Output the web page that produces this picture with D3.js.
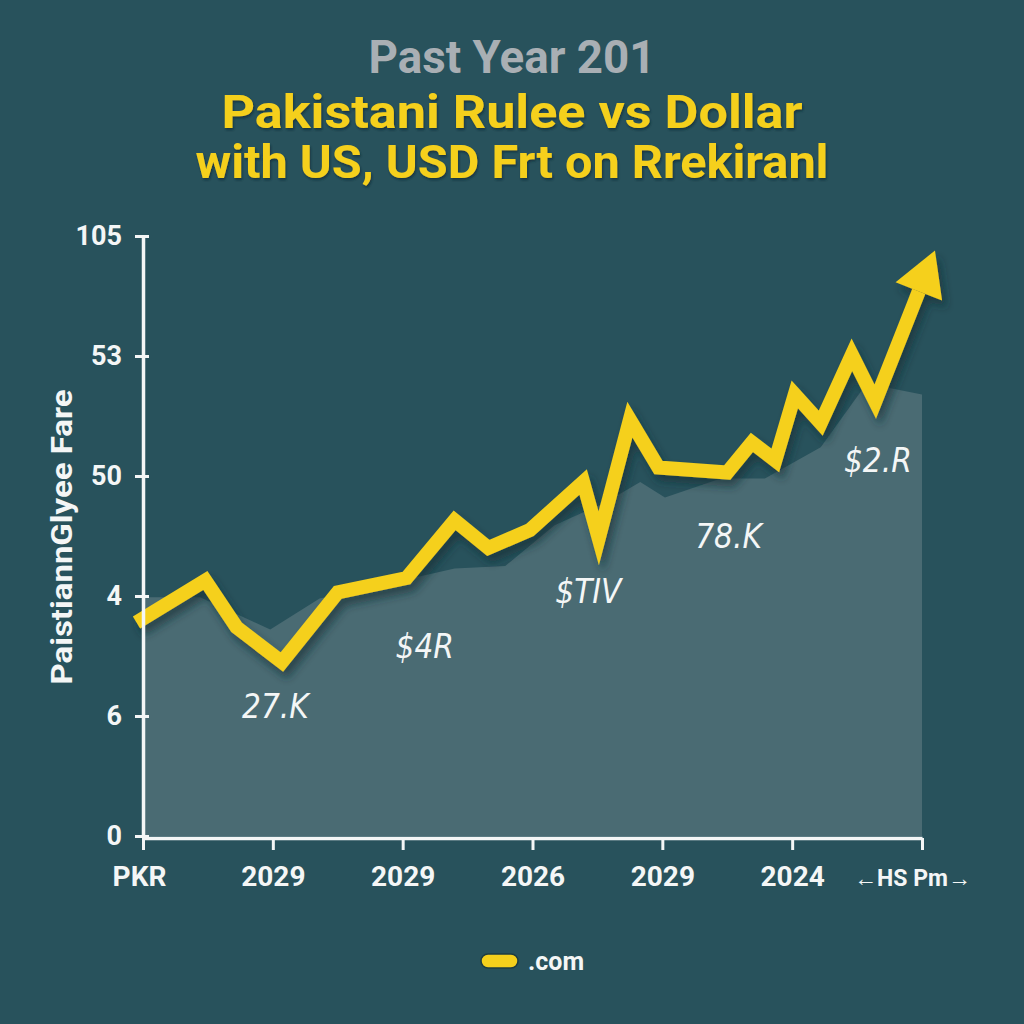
<!DOCTYPE html>
<html>
<head>
<meta charset="utf-8">
<script src="https://cdn.jsdelivr.net/npm/d3@7"></script>
<style>
  body { margin: 0; background: #28525c; }
  svg { display: block; }
</style>
</head>
<body>
<svg id="chart" width="1024" height="1024"></svg>
<script>
// tick labels (as printed on the chart)
var xLabels = ["PKR", "2029", "2029", "2026", "2029", "2024", "\u2190HS Pm\u2192"];
var yLabels = ["0", "6", "4", "50", "53", "105"];

// yellow rate line, in axis units (x: tick index, y: tick index)
var rateX = [-0.05, 0.48, 0.72, 1.07, 1.50, 2.03, 2.40, 2.66, 2.98, 3.39, 3.51, 3.75, 3.97, 4.50, 4.69, 4.87, 5.02, 5.22, 5.46, 5.64, 6.10];
var rateY = [1.78, 2.13, 1.74, 1.45, 2.03, 2.15, 2.63, 2.40, 2.55, 2.95, 2.48, 3.47, 3.07, 3.03, 3.28, 3.13, 3.68, 3.44, 4.01, 3.62, 4.88];

// grey area behind the line
var areaX = [0, 0.44, 0.98, 1.36, 1.67, 2.40, 2.79, 3.17, 3.56, 3.83, 4.02, 4.45, 4.79, 5.22, 5.54, 5.72, 6.0];
var areaY = [1.99, 1.99, 1.72, 1.98, 2.05, 2.23, 2.25, 2.59, 2.78, 2.95, 2.82, 2.98, 2.98, 3.24, 3.72, 3.74, 3.68];

// value notes on the area
var notes = ["27.K", "$4R", "$TIV", "78.K", "$2.R"];
var noteX = [1.02, 2.17, 3.43, 4.51, 5.66];
var noteY = [0.98, 1.48, 1.94, 2.40, 3.03];

var titles = ["Past Year 201", "Pakistani Rulee vs Dollar", "with US, USD Frt on Rrekiranl"];

var svg = d3.select("#chart");
var yellow = "#f5d01c";

svg.append("rect").attr("width", 1024).attr("height", 1024).attr("fill", "#28525c");

var defs = svg.append("defs");
var f = defs.append("filter").attr("id", "shadow")
    .attr("x", "-10%").attr("y", "-10%").attr("width", "130%").attr("height", "130%");
f.append("feDropShadow").attr("dx", 4).attr("dy", 7).attr("stdDeviation", 4)
    .attr("flood-color", "#0d2a30").attr("flood-opacity", 0.6);
var ts = defs.append("filter").attr("id", "tshadow");
ts.append("feDropShadow").attr("dx", 1).attr("dy", 2).attr("stdDeviation", 1)
    .attr("flood-color", "#0d2a30").attr("flood-opacity", 0.7);

// titles
var titleCfg = [
  {y: 73, size: 46, len: 287, fill: "#a9afb4"},
  {y: 128, size: 46, len: 581, fill: yellow},
  {y: 178, size: 46, len: 633, fill: yellow}
];
titles.forEach(function(t, i) {
  svg.append("text")
    .attr("x", 512)
    .attr("y", titleCfg[i].y)
    .attr("text-anchor", "middle")
    .attr("textLength", titleCfg[i].len)
    .attr("lengthAdjust", "spacingAndGlyphs")
    .style("font-family", "Roboto, 'Liberation Sans', sans-serif")
    .style("font-weight", "bold")
    .style("font-size", titleCfg[i].size + "px")
    .style("fill", titleCfg[i].fill)
    .attr("filter", i > 0 ? "url(#tshadow)" : null)
    .text(t);
});

var x = d3.scaleLinear().domain([0, 6]).range([143, 922]);
var y = d3.scaleLinear().domain([0, 5]).range([836, 236]);

// area
var areaPts = areaX.map(function(d, i) { return [d, areaY[i]]; });
svg.append("path")
  .datum(areaPts)
  .attr("fill", "#4a6b73")
  .attr("d", d3.area().x(function(d) { return x(d[0]); }).y0(y(0)).y1(function(d) { return y(d[1]); }));

// notes
notes.forEach(function(n, i) {
  svg.append("text")
    .attr("x", x(noteX[i]))
    .attr("y", y(noteY[i]))
    .attr("text-anchor", "middle")
    .style("font-family", "'DejaVu Sans Condensed', 'Liberation Sans Narrow', sans-serif")
    .style("font-style", "oblique")
    .style("font-size", "33px")
    .style("fill", "#f4f6f6")
    .text(n);
});

// line + arrow head (tip is the last point)
var pts = rateX.map(function(d, i) { return [x(d), y(rateY[i])]; });
var tip = pts[pts.length - 1], prev = pts[pts.length - 2];
var dx = tip[0] - prev[0], dy = tip[1] - prev[1];
var len = Math.sqrt(dx * dx + dy * dy);
var ux = dx / len, uy = dy / len;
var headLen = 44, headHalf = 25;
var base = [tip[0] - ux * headLen, tip[1] - uy * headLen];
var linePts = pts.slice(0, -1).concat([base]);

var lineG = svg.append("g").attr("filter", "url(#shadow)");
lineG.append("path")
  .datum(linePts)
  .attr("fill", "none")
  .attr("stroke", yellow)
  .attr("stroke-width", 14)
  .attr("stroke-linejoin", "miter")
  .attr("stroke-miterlimit", 6)
  .attr("d", d3.line());
lineG.append("path")
  .attr("fill", yellow)
  .attr("d", d3.line()([
    tip,
    [base[0] - uy * headHalf, base[1] + ux * headHalf],
    [base[0] + uy * headHalf, base[1] - ux * headHalf]
  ]) + "Z");

// axes
var yAxis = svg.append("g")
  .attr("transform", "translate(143,0)")
  .call(d3.axisLeft(y).tickValues(d3.range(6)).tickFormat(function(i) { return yLabels[i]; })
    .tickSize(8).tickSizeOuter(0).tickPadding(13));
yAxis.selectAll(".tick line").attr("x1", 6).attr("stroke", "#f4f6f6").attr("stroke-width", 3);
yAxis.select(".domain").attr("stroke", "#f4f6f6").attr("stroke-width", 3.5);
yAxis.selectAll("text")
  .style("font-family", "Roboto, sans-serif").style("font-weight", "bold")
  .style("font-size", "27px").style("fill", "#f4f6f6");

var xAxis = svg.append("g")
  .attr("transform", "translate(0,838)")
  .call(d3.axisBottom(x).tickValues(d3.range(7)).tickFormat(function(i) { return xLabels[i]; })
    .tickSize(12).tickSizeOuter(0).tickPadding(16));
xAxis.selectAll(".tick line").attr("stroke", "#f4f6f6").attr("stroke-width", 3);
xAxis.select(".domain").attr("stroke", "#f4f6f6").attr("stroke-width", 3.5);
xAxis.selectAll("text")
  .style("font-family", "Roboto, sans-serif").style("font-weight", "bold")
  .style("font-size", "28px").style("fill", "#f4f6f6");
xAxis.selectAll(".tick").filter(function(d) { return d === 6; }).select("text")
  .style("font-size", "23px").attr("dy", "0.85em").attr("x", -10);
xAxis.selectAll(".tick").filter(function(d) { return d === 0; }).select("text").attr("x", -4);

// y axis title
svg.append("text")
  .attr("transform", "translate(72,537) rotate(-90)")
  .attr("text-anchor", "middle")
  .attr("textLength", 295)
  .attr("lengthAdjust", "spacingAndGlyphs")
  .style("font-family", "Roboto, sans-serif").style("font-weight", "bold")
  .style("font-size", "29px").style("fill", "#f4f6f6")
  .text("PaistiannGlyee Fare");

// legend
svg.append("rect")
  .attr("x", 481).attr("y", 954).attr("width", 37).attr("height", 14).attr("rx", 7)
  .attr("fill", yellow).attr("stroke", "#1e3c40").attr("stroke-width", 1.5);
svg.append("text")
  .attr("x", 528).attr("y", 970)
  .style("font-family", "Roboto, sans-serif").style("font-weight", "bold")
  .style("font-size", "25px").style("fill", "#f4f6f6")
  .text(".com");
</script>
</body>
</html>
